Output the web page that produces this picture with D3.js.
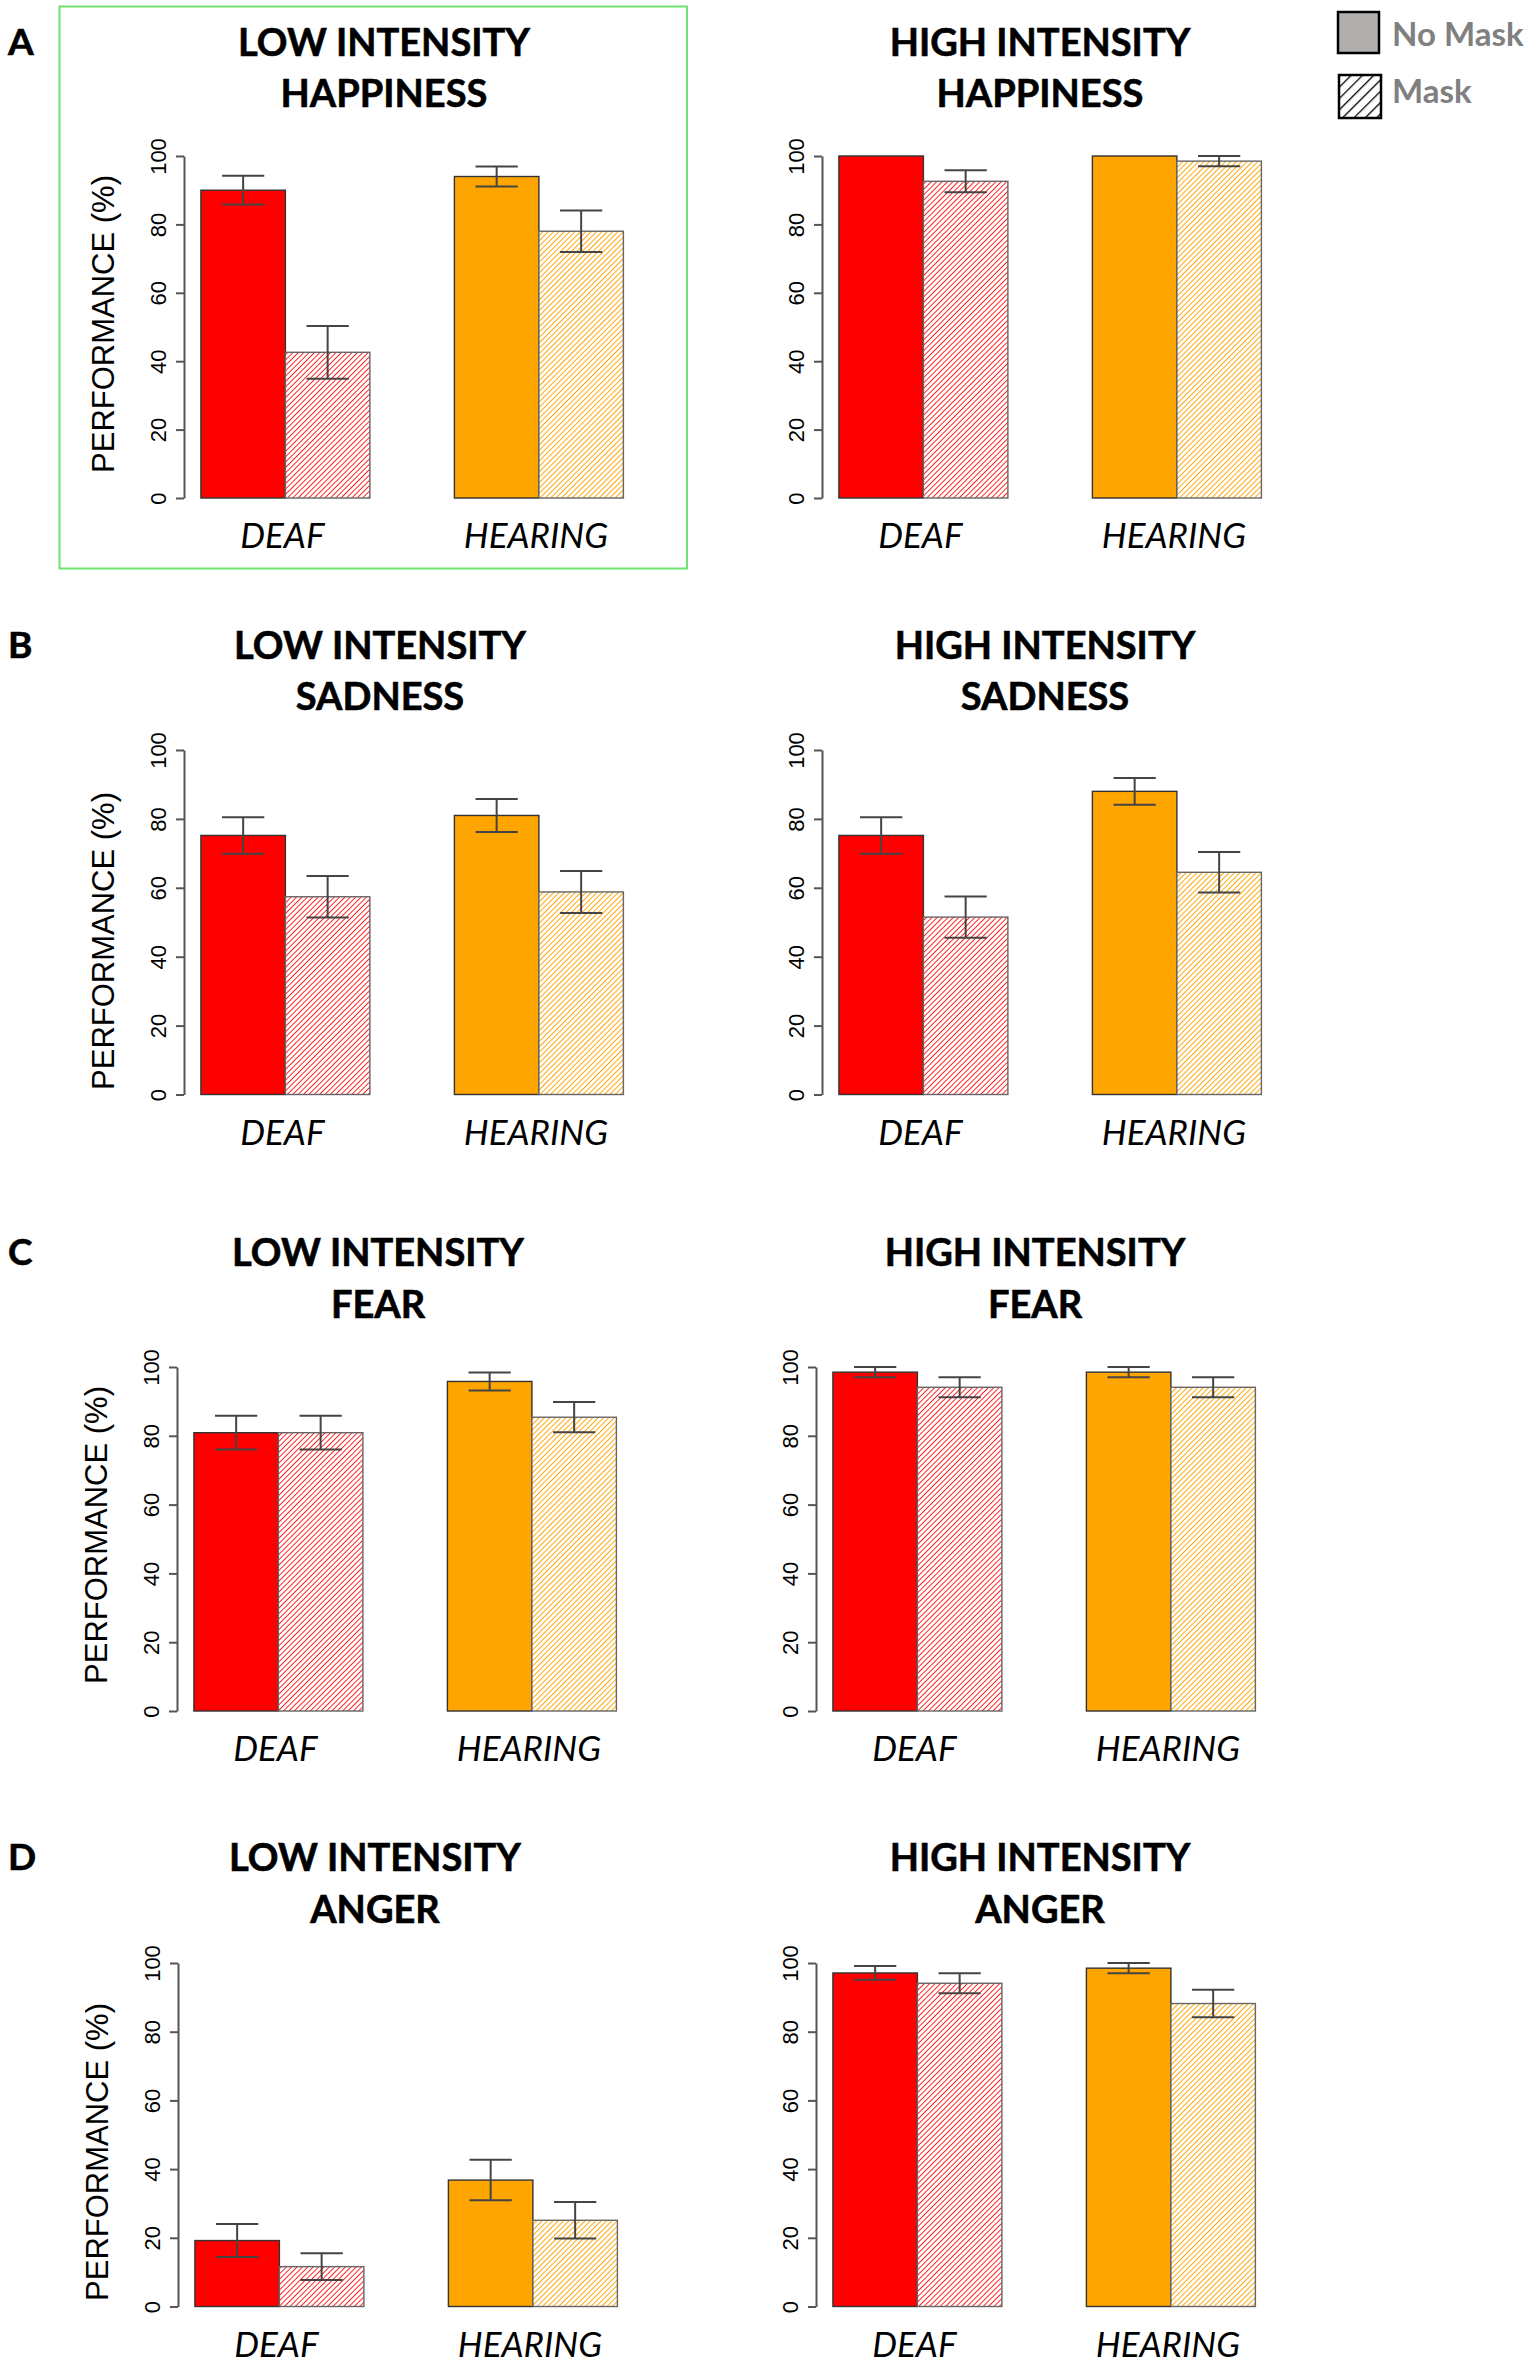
<!DOCTYPE html>
<html lang="en">
<head>
    <meta charset="UTF-8">
    <title>Performance by intensity and mask</title>
    <style>
        body{ margin:0; background:#fff;}
        .title{ font-family:Lato, "Open Sans", sans-serif; font-weight:700; font-size:38px; fill:#000; stroke:#000; stroke-width:0.6px;}
        .letter{ font-family:Lato, sans-serif; font-weight:700; font-size:37px; fill:#000; stroke:#000; stroke-width:0.6px;}
        .cat{ font-family:Lato, sans-serif; font-style:italic; font-size:35px; fill:#000;}
        .ylab{ font-family:"Liberation Sans", Arial, sans-serif; font-size:31px; fill:#000;}
        .axis text{ font-family:"Liberation Sans", Arial, sans-serif; font-size:22px; fill:#000;}
        .axis line, .axis path{ stroke:#555; stroke-width:2;}
        .legend{ font-family:Lato, sans-serif; font-weight:700; font-size:33px; fill:#808080;}
    </style>
</head>
<body>

<script src="https://cdn.jsdelivr.net/npm/d3@7"></script>
<script>

// data
var groups = ["DEAF", "HEARING"];
var conditions = ["No Mask", "Mask"];
var emotions = ["HAPPINESS", "SADNESS", "FEAR", "ANGER"];
var intensities = ["LOW INTENSITY", "HIGH INTENSITY"];
var panelLetters = ["A", "B", "C", "D"];
var yTicks = [0, 20, 40, 60, 80, 100];

// bar order: deaf no mask, deaf mask, hearing no mask, hearing mask
var lowMeans = [
    [90, 42.6, 94, 78],
    [75.2, 57.4, 81, 58.8],
    [80.9, 80.9, 95.8, 85.4],
    [19.2, 11.6, 36.8, 25.1]
];
var lowErrors = [
    [4.2, 7.7, 2.9, 6.1],
    [5.3, 6.0, 4.8, 6.1],
    [4.9, 4.9, 2.6, 4.4],
    [4.8, 3.9, 5.9, 5.3]
];
var highMeans = [
    [100, 92.6, 100, 98.5],
    [75.2, 51.5, 88, 64.5],
    [98.5, 94.1, 98.5, 94.1],
    [97.1, 94.1, 98.5, 88.2]
];
var highErrors = [
    [0, 3.2, 0, 1.5],
    [5.3, 6.0, 3.9, 5.9],
    [1.5, 2.9, 1.5, 2.9],
    [2.0, 2.9, 1.5, 4.0]
];

// layout (pixels)
var rowTop    = [156, 750, 1367, 1963];
var rowBottom = [498, 1094.5, 1711, 2306.5];
var axisLeftX  = [184, 184, 177, 178];
var axisRightX = [822, 822, 816, 816];
var titleBase  = [55.6, 658.5, 1266, 1871.3];
var titleLeftX  = [384, 380, 378, 375];
var titleRightX = [1040, 1045, 1035, 1040];
var ylabY = [324, 941, 1535, 2152];
var barUnit = 84.5;

var solidColors = ["#ff0000", "#ffa500"];

var svg = d3.select("body").append("svg")
        .attr("width", 1532)
        .attr("height", 2362);

svg.append("rect").attr("width", 1532).attr("height", 2362).attr("fill", "#fff");

var defs = svg.append("defs");
function hatch(id, color, size, width){
    var p = defs.append("pattern")
            .attr("id", id)
            .attr("patternUnits", "userSpaceOnUse")
            .attr("width", size).attr("height", size)
            .attr("patternTransform", "rotate(45)");
    p.append("rect").attr("width", size).attr("height", size).attr("fill", "#fff");
    p.append("line").attr("x1", 0).attr("y1", 0).attr("x2", 0).attr("y2", size)
            .attr("stroke", color).attr("stroke-width", width);
}
hatch("hatch0", "#ff0000", 3.8, 1.7);
hatch("hatch1", "#ffa500", 3.8, 1.9);
hatch("hatchLegend", "#000", 8, 2.6);

// green frame around the first panel
svg.append("rect")
        .attr("x", 59.5).attr("y", 6.5)
        .attr("width", 627.5).attr("height", 562)
        .attr("fill", "none")
        .attr("stroke", "#6fe26f")
        .attr("stroke-width", 2);

function drawPanel(row, side){
    var axisX = side == 0 ? axisLeftX[row] : axisRightX[row];
    var means = side == 0 ? lowMeans[row] : highMeans[row];
    var errs = side == 0 ? lowErrors[row] : highErrors[row];

    var x = d3.scaleLinear().domain([0.8, 6.2]).range([axisX, axisX + 5.4 * barUnit]);
    var y = d3.scaleLinear().domain([0, 100]).range([rowBottom[row], rowTop[row]]);

    var g = svg.append("g");

    // title, two lines
    var tx = side == 0 ? titleLeftX[row] : titleRightX[row];
    g.append("text").attr("class", "title").attr("text-anchor", "middle")
            .attr("x", tx).attr("y", titleBase[row]).text(intensities[side]);
    g.append("text").attr("class", "title").attr("text-anchor", "middle")
            .attr("x", tx).attr("y", titleBase[row] + 51.5).text(emotions[row]);

    // y axis
    var ax = g.append("g").attr("class", "axis")
            .attr("transform", "translate(" + axisX + ",0)")
            .call(d3.axisLeft(y).tickValues(yTicks).tickSize(8).tickSizeOuter(0));
    ax.selectAll("text")
            .attr("x", 0).attr("dy", 0)
            .attr("text-anchor", "middle")
            .attr("transform", "translate(-18,0) rotate(-90)");

    if (side == 0){
        g.append("text").attr("class", "ylab").attr("text-anchor", "middle")
                .attr("transform", "translate(" + (axisX - 70) + "," + ylabY[row] + ") rotate(-90)")
                .text("PERFORMANCE (%)");
    }

    // bars: positions 1,2 and 4,5 in bar units (space between groups)
    var bars = [];
    groups.forEach(function(grp, gi){
        conditions.forEach(function(cond, ci){
            var k = gi * 2 + ci;
            bars.push({ pos: 1 + gi * 3 + ci, v: means[k], e: errs[k], gi: gi, ci: ci });
        });
    });

    g.selectAll(".bar").data(bars).enter().append("rect")
            .attr("x", function(d){ return x(d.pos); })
            .attr("width", function(d){ return x(d.pos + 1) - x(d.pos); })
            .attr("y", function(d){ return y(d.v); })
            .attr("height", function(d){ return y(0) - y(d.v); })
            .attr("fill", function(d){ return d.ci == 0 ? solidColors[d.gi] : "url(#hatch" + d.gi + ")"; })
            .attr("stroke", function(d){ return d.ci == 0 ? "#333" : "#666"; })
            .attr("stroke-width", 1.4);

    // error bars
    var eb = g.selectAll(".err").data(bars.filter(function(d){ return d.e > 0; })).enter().append("g")
            .attr("stroke", "#444").attr("stroke-width", 2);
    eb.append("line")
            .attr("x1", function(d){ return x(d.pos + 0.5); })
            .attr("x2", function(d){ return x(d.pos + 0.5); })
            .attr("y1", function(d){ return y(d.v - d.e); })
            .attr("y2", function(d){ return y(d.v + d.e); });
    [-1, 1].forEach(function(s){
        eb.append("line")
                .attr("x1", function(d){ return x(d.pos + 0.25); })
                .attr("x2", function(d){ return x(d.pos + 0.75); })
                .attr("y1", function(d){ return y(d.v + s * d.e); })
                .attr("y2", function(d){ return y(d.v + s * d.e); });
    });

    // group labels
    g.selectAll(".cat").data(groups).enter().append("text")
            .attr("class", "cat").attr("text-anchor", "middle")
            .attr("x", function(d, i){ return x(2 + i * 3) - 3; })
            .attr("y", rowBottom[row] + 50)
            .text(function(d){ return d; });
}

for (var r = 0; r < 4; r++){
    svg.append("text").attr("class", "letter")
            .attr("x", 8).attr("y", titleBase[r] - 1)
            .text(panelLetters[r]);
    drawPanel(r, 0);
    drawPanel(r, 1);
}

// legend
svg.append("rect").attr("x", 1338).attr("y", 12).attr("width", 41).attr("height", 41)
        .attr("fill", "#b3aeae").attr("stroke", "#000").attr("stroke-width", 2.5);
svg.append("rect").attr("x", 1339).attr("y", 75).attr("width", 42).attr("height", 43)
        .attr("fill", "url(#hatchLegend)").attr("stroke", "#000").attr("stroke-width", 2.5);
svg.append("text").attr("class", "legend").attr("x", 1392).attr("y", 46).text(conditions[0]);
svg.append("text").attr("class", "legend").attr("x", 1392).attr("y", 103).text(conditions[1]);

</script>
</body>
</html>
